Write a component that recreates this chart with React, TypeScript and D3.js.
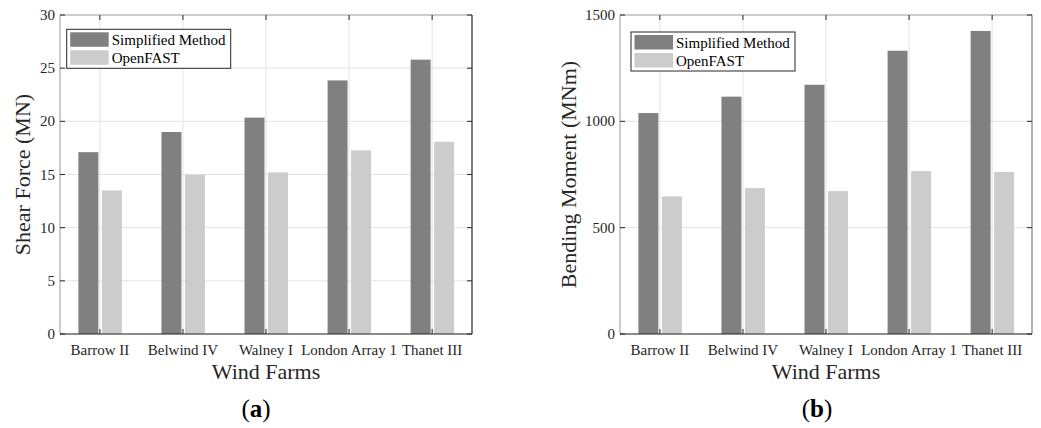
import React from "react";
import * as d3 from "d3";

const categories = ["Barrow II", "Belwind IV", "Walney I", "London Array 1", "Thanet III"];
const seriesNames = ["Simplified Method", "OpenFAST"];
const shearSimplified = [17.1, 19.0, 20.35, 23.85, 25.8];
const shearOpenFAST = [13.5, 14.98, 15.2, 17.27, 18.08];
const momentSimplified = [1039, 1116, 1172, 1332, 1425];
const momentOpenFAST = [647, 686, 672, 766, 762];
const shearTicks = [0, 5, 10, 15, 20, 25, 30];
const momentTicks = [0, 500, 1000, 1500];

const COLORS = ["#808080", "#cccccc"];
const FONT = "'Liberation Serif', 'Times New Roman', serif";

type PanelProps = {
  left: number;
  right: number;
  top: number;
  bottom: number;
  yMax: number;
  ticks: number[];
  s1: number[];
  s2: number[];
  yLabel: string;
  yLabelOffset: number;
  tag: string;
  tagX: number;
  legendX: number;
  legendY: number;
  rightColor: string;
};

function Panel(p: PanelProps) {
  const x = d3.scaleLinear().domain([0.52, 5.48]).range([p.left, p.right]);
  const y = d3.scaleLinear().domain([0, p.yMax]).range([p.bottom, p.top]);
  const sub = d3.scaleBand<string>().domain(seriesNames).range([-21.5, 22]).paddingInner(0.15);
  const series = [p.s1, p.s2];
  const cx = (p.left + p.right) / 2;
  const cy = (p.top + p.bottom) / 2;
  const tl = 5;
  return (
    <g>
      {categories.map((c, i) => (
        <line key={"gx" + c} x1={x(i + 1)} x2={x(i + 1)} y1={p.top} y2={p.bottom} stroke="#e3e3e3" strokeWidth={1} />
      ))}
      {p.ticks.map((t) => (
        <line key={"gy" + t} x1={p.left} x2={p.right} y1={y(t)} y2={y(t)} stroke="#e3e3e3" strokeWidth={1} />
      ))}
      {series.map((vals, si) =>
        vals.map((v, i) => (
          <rect
            key={"b" + si + "-" + i}
            x={x(i + 1) + (sub(seriesNames[si]) as number)}
            y={y(v)}
            width={sub.bandwidth()}
            height={p.bottom - y(v)}
            fill={COLORS[si]}
          />
        ))
      )}
      <line x1={p.left} x2={p.right} y1={p.top} y2={p.top} stroke="#a8a8a8" strokeWidth={1.2} />
      <line x1={p.left} x2={p.left} y1={p.top} y2={p.bottom} stroke="#a8a8a8" strokeWidth={1.2} />
      <line x1={p.right} x2={p.right} y1={p.top} y2={p.bottom} stroke={p.rightColor} strokeWidth={1.2} />
      <line x1={p.left} x2={p.right} y1={p.bottom} y2={p.bottom} stroke="#262626" strokeWidth={1.2} />
      {categories.map((c, i) => (
        <g key={"tx" + c}>
          <line x1={x(i + 1)} x2={x(i + 1)} y1={p.bottom} y2={p.bottom - tl} stroke="#262626" />
          <line x1={x(i + 1)} x2={x(i + 1)} y1={p.top} y2={p.top + tl} stroke="#262626" />
          <text x={x(i + 1)} y={p.bottom + 21} textAnchor="middle" fontFamily={FONT} fontSize={15} fill="#262626">
            {c}
          </text>
        </g>
      ))}
      {p.ticks.map((t) => (
        <g key={"ty" + t}>
          <line x1={p.left} x2={p.left + tl} y1={y(t)} y2={y(t)} stroke="#262626" />
          <line x1={p.right} x2={p.right - tl} y1={y(t)} y2={y(t)} stroke="#262626" />
          <text x={p.left - 5} y={y(t) + 5} textAnchor="end" fontFamily={FONT} fontSize={15} fill="#262626">
            {t}
          </text>
        </g>
      ))}
      <text x={cx} y={p.bottom + 45} textAnchor="middle" fontFamily={FONT} fontSize={22} fill="#262626">
        Wind Farms
      </text>
      <text
        transform={`translate(${p.left - p.yLabelOffset},${cy}) rotate(-90)`}
        textAnchor="middle"
        fontFamily={FONT}
        fontSize={22}
        fill="#262626"
      >
        {p.yLabel}
      </text>
      <g transform={`translate(${p.legendX},${p.legendY})`}>
        <rect x={0} y={0} width={164} height={39} fill="#fff" stroke="#262626" strokeWidth={1} />
        {seriesNames.map((n, i) => (
          <g key={"lg" + n}>
            <rect x={3.5} y={3 + i * 18} width={38.5} height={14.5} fill={COLORS[i]} />
            <text x={45} y={16 + i * 17.7} fontFamily={FONT} fontSize={15} fill="#000">
              {n}
            </text>
          </g>
        ))}
      </g>
      <text x={p.tagX} y={417} textAnchor="middle" fontFamily={FONT} fontSize={25} fill="#000">
        (<tspan fontWeight="bold">{p.tag}</tspan>)
      </text>
    </g>
  );
}

export default function App() {
  return (
    <svg
      width={1041}
      height={428}
      viewBox="0 0 1041 428"
      style={{ position: "absolute", left: 0, top: 0, background: "#fff" }}
    >
      <rect x={0} y={0} width={1041} height={428} fill="#fff" />
      <Panel
        left={60}
        right={472}
        top={15}
        bottom={334}
        yMax={30}
        ticks={shearTicks}
        s1={shearSimplified}
        s2={shearOpenFAST}
        yLabel="Shear Force (MN)"
        yLabelOffset={30}
        tag="a"
        tagX={256}
        legendX={66.7}
        legendY={29.3}
        rightColor="#262626"
      />
      <Panel
        left={620}
        right={1032}
        top={15}
        bottom={334}
        yMax={1500}
        ticks={momentTicks}
        s1={momentSimplified}
        s2={momentOpenFAST}
        yLabel="Bending Moment (MNm)"
        yLabelOffset={44}
        tag="b"
        tagX={817}
        legendX={631}
        legendY={32}
        rightColor="#808080"
      />
    </svg>
  );
}
